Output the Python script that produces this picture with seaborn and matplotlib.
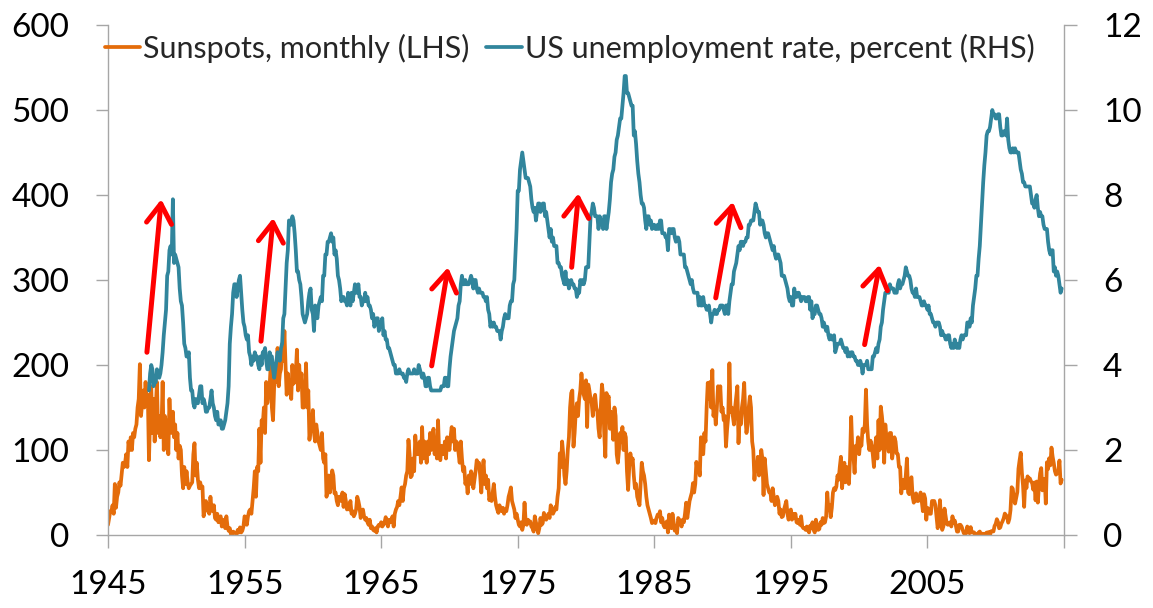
import numpy as np
import pandas as pd
import matplotlib
matplotlib.use("Agg")
import matplotlib.pyplot as plt
import seaborn as sns

# ---------------- data ----------------
# Monthly sunspot number (LHS), Jan 1945 - Nov 2014
sun_1940s = [
    12, 20, 28, 28, 35, 25, 60, 32, 45, 50, 62, 58,
    72, 85, 80, 85, 95, 80, 110, 100, 115, 100, 120, 115,
    125, 130, 150, 160, 201, 140, 155, 170, 150, 180, 155, 165,
    88, 140, 175, 120, 160, 110, 150, 180, 120, 140, 115, 125,
    180, 100, 140, 130, 120, 95, 160, 125, 120, 145, 115, 130,
]
sun_1950s = [
    100, 120, 90, 105, 100, 70, 55, 80, 60, 75, 62, 55,
    58, 60, 62, 95, 108, 70, 85, 65, 55, 62, 55, 57,
    22, 30, 40, 35, 28, 25, 45, 30, 28, 35, 20, 18,
    25, 15, 20, 22, 10, 18, 12, 8, 22, 10, 5, 8,
    1, 0, 4, 3, 2, 1, 6, 3, 9, 3, 5, 10,
    22, 20, 12, 22, 28, 30, 25, 40, 55, 75, 45, 80,
    75, 125, 85, 135, 130, 150, 120, 180, 155, 165, 175, 200,
    150, 135, 175, 185, 180, 220, 175, 190, 195, 225, 205, 240,
    200, 165, 190, 170, 175, 160, 200, 178, 180, 190, 218, 170,
    200, 175, 190, 150, 150, 160, 202, 150, 170, 112, 125, 130,
]
sun_1960s = [
    147, 120, 110, 130, 120, 110, 105, 100, 120, 90, 85, 95,
    45, 55, 70, 50, 60, 76, 70, 49, 50, 40, 35, 45,
    45, 40, 50, 33, 48, 40, 30, 35, 30, 40, 25, 28,
    22, 25, 30, 45, 40, 33, 20, 25, 30, 22, 18, 20,
    15, 12, 18, 8, 10, 6, 5, 8, 3, 10, 12, 11,
    15, 10, 12, 15, 21, 15, 10, 18, 15, 18, 22, 10,
    25, 30, 33, 40, 35, 45, 56, 40, 55, 60, 70, 75,
    112, 95, 68, 70, 90, 75, 117, 100, 95, 105, 110, 85,
    127, 90, 110, 100, 85, 110, 95, 120, 100, 115, 125, 95,
    110, 90, 135, 95, 88, 105, 100, 95, 110, 90, 115, 110,
]
sun_1970s = [
    100, 115, 127, 110, 125, 100, 110, 108, 96, 85, 110, 90,
    75, 80, 60, 65, 49, 70, 60, 75, 70, 55, 65, 75,
    88, 80, 85, 70, 50, 75, 88, 60, 70, 55, 65, 41,
    45, 40, 50, 60, 45, 35, 30, 26, 35, 30, 28, 32,
    25, 30, 28, 35, 45, 50, 56, 40, 35, 30, 20, 25,
    18, 12, 10, 15, 6, 12, 38, 15, 12, 18, 14, 16,
    10, 8, 4, 22, 15, 10, 2, 8, 20, 12, 14, 26,
    20, 18, 22, 25, 20, 35, 30, 25, 28, 33, 30, 45,
    55, 96, 80, 110, 95, 70, 60, 75, 100, 115, 150, 167,
    170, 104, 120, 145, 155, 140, 160, 170, 190, 175, 165, 160,
]
sun_1980s = [
    182, 127, 177, 170, 160, 155, 140, 160, 165, 150, 145, 125,
    115, 150, 177, 165, 120, 92, 167, 160, 163, 125, 145, 130,
    112, 150, 140, 95, 85, 100, 120, 110, 127, 100, 120, 115,
    75, 53, 80, 96, 85, 90, 70, 55, 60, 45, 40, 35,
    60, 85, 75, 70, 60, 45, 35, 30, 25, 20, 14, 15,
    17, 14, 20, 24, 22, 28, 15, 20, 12, 9, 12, 16,
    3, 24, 15, 8, 25, 15, 5, 10, 2, 20, 18, 15,
    10, 18, 15, 25, 38, 20, 30, 40, 45, 50, 61, 50,
    60, 86, 75, 80, 70, 115, 100, 95, 120, 110, 150, 179,
    160, 180, 150, 194, 140, 150, 130, 150, 175, 160, 175, 145,
]
sun_1990s = [
    150, 135, 140, 104, 125, 140, 202, 145, 150, 140, 130, 150,
    163, 175, 108, 140, 130, 150, 160, 179, 140, 120, 130, 150,
    163, 150, 110, 100, 65, 85, 75, 92, 70, 80, 100, 90,
    47, 90, 75, 60, 55, 50, 50, 40, 55, 45, 35, 40,
    45, 40, 25, 30, 21, 22, 30, 35, 40, 25, 18, 25,
    30, 18, 25, 20, 25, 15, 14, 18, 12, 22, 10, 8,
    8, 6, 10, 6, 3, 11, 8, 15, 6, 3, 18, 7,
    6, 7, 15, 12, 20, 14, 15, 22, 50, 30, 35, 21,
    32, 50, 55, 53, 57, 70, 65, 80, 92, 55, 72, 85,
    62, 80, 70, 60, 90, 139, 100, 93, 73, 105, 100, 115,
]
sun_2000s = [
    95, 110, 105, 125, 121, 130, 171, 130, 110, 100, 111, 104,
    95, 80, 105, 115, 90, 135, 100, 151, 140, 125, 85, 130,
    115, 107, 98, 120, 120, 90, 100, 115, 110, 96, 95, 80,
    80, 49, 60, 65, 55, 70, 90, 50, 48, 65, 68, 45,
    38, 45, 49, 40, 40, 44, 50, 40, 28, 48, 43, 18,
    32, 30, 25, 25, 40, 40, 40, 35, 22, 8, 18, 41,
    16, 6, 10, 31, 22, 13, 12, 14, 15, 10, 22, 14,
    17, 11, 4, 4, 12, 12, 10, 6, 2, 1, 2, 10,
    3.4, 2.1, 9.3, 2.9, 2.9, 3.1, 0.5, 0.0, 1.1, 2.9, 4.1, 0.8,
    1.5, 1.4, 0.7, 1.2, 2.9, 2.6, 3.5, 0.0, 4.4, 4.6, 4.2, 10.6,
]
sun_2010s = [
    13.1, 18.6, 15.4, 7.9, 8.8, 13.5, 16.1, 19.6, 25.2, 23.5, 21.6, 14.5,
    19.0, 29.4, 56.2, 54.4, 41.6, 37.0, 43.8, 50.6, 78.0, 88.0, 96.7, 73.0,
    58.3, 33.1, 64.2, 55.2, 69.0, 64.5, 66.5, 63.0, 61.4, 53.3, 61.8, 40.8,
    62.9, 38.1, 57.9, 72.4, 78.7, 52.5, 57.0, 66.0, 37.0, 85.6, 77.6, 90.3,
    82.0, 102.8, 92.2, 84.7, 75.2, 71.0, 72.4, 74.6, 87.6, 60.6, 65.0,
]

# US unemployment rate, percent (RHS), Jan 1948 - Nov 2014
unemp_1940s = [
    3.4, 3.8, 4.0, 3.9, 3.5, 3.6, 3.6, 3.9, 3.8, 3.7, 3.8, 4.0,
    4.3, 4.7, 5.0, 5.3, 6.1, 6.2, 6.7, 6.8, 6.6, 7.9, 6.4, 6.6,
]
unemp_1950s = [
    6.5, 6.4, 6.3, 5.8, 5.5, 5.4, 5.0, 4.5, 4.4, 4.2, 4.2, 4.3,
    3.7, 3.4, 3.4, 3.1, 3.0, 3.2, 3.1, 3.1, 3.3, 3.5, 3.5, 3.1,
    3.2, 3.1, 2.9, 2.9, 3.0, 3.0, 3.2, 3.4, 3.1, 3.0, 2.8, 2.7,
    2.9, 2.6, 2.6, 2.7, 2.5, 2.5, 2.6, 2.7, 2.9, 3.1, 3.5, 4.5,
    4.9, 5.2, 5.7, 5.9, 5.9, 5.6, 5.8, 6.0, 6.1, 5.7, 5.3, 5.0,
    4.9, 4.7, 4.6, 4.7, 4.3, 4.2, 4.0, 4.2, 4.1, 4.3, 4.2, 4.2,
    4.0, 3.9, 4.2, 4.0, 4.3, 4.3, 4.4, 4.1, 3.9, 3.9, 4.3, 4.2,
    4.2, 3.9, 3.7, 3.9, 4.1, 4.3, 4.2, 4.1, 4.4, 4.5, 5.1, 5.2,
    5.8, 6.4, 6.7, 7.4, 7.4, 7.3, 7.5, 7.4, 7.1, 6.7, 6.2, 6.2,
    6.0, 5.9, 5.6, 5.2, 5.1, 5.0, 5.1, 5.2, 5.5, 5.7, 5.8, 5.3,
]
unemp_1960s = [
    5.2, 4.8, 5.4, 5.2, 5.1, 5.4, 5.5, 5.6, 5.5, 6.1, 6.1, 6.6,
    6.6, 6.9, 6.9, 7.0, 7.1, 6.9, 7.0, 6.6, 6.7, 6.5, 6.1, 6.0,
    5.8, 5.5, 5.6, 5.6, 5.5, 5.5, 5.4, 5.7, 5.6, 5.4, 5.7, 5.5,
    5.7, 5.9, 5.7, 5.7, 5.9, 5.6, 5.6, 5.4, 5.5, 5.5, 5.7, 5.5,
    5.6, 5.4, 5.4, 5.3, 5.1, 5.2, 4.9, 5.0, 5.1, 5.1, 4.8, 5.0,
    4.9, 5.1, 4.7, 4.8, 4.6, 4.6, 4.4, 4.4, 4.3, 4.2, 4.1, 4.0,
    4.0, 3.8, 3.8, 3.8, 3.9, 3.8, 3.8, 3.8, 3.7, 3.7, 3.6, 3.8,
    3.9, 3.8, 3.8, 3.8, 3.8, 3.9, 3.8, 3.8, 3.8, 4.0, 3.9, 3.8,
    3.7, 3.8, 3.7, 3.5, 3.5, 3.7, 3.7, 3.5, 3.4, 3.4, 3.4, 3.4,
    3.4, 3.4, 3.4, 3.4, 3.4, 3.5, 3.5, 3.5, 3.7, 3.7, 3.5, 3.5,
]
unemp_1970s = [
    3.9, 4.2, 4.4, 4.6, 4.8, 4.9, 5.0, 5.1, 5.4, 5.5, 5.9, 6.1,
    5.9, 5.9, 6.0, 5.9, 5.9, 5.9, 6.0, 6.1, 6.0, 5.8, 6.0, 6.0,
    5.8, 5.7, 5.8, 5.7, 5.7, 5.7, 5.6, 5.6, 5.5, 5.6, 5.3, 5.2,
    4.9, 5.0, 4.9, 5.0, 4.9, 4.9, 4.8, 4.8, 4.8, 4.6, 4.8, 4.9,
    5.1, 5.2, 5.1, 5.1, 5.1, 5.4, 5.5, 5.5, 5.9, 6.0, 6.6, 7.2,
    8.1, 8.1, 8.6, 8.8, 9.0, 8.8, 8.6, 8.4, 8.4, 8.4, 8.3, 8.2,
    7.9, 7.7, 7.6, 7.7, 7.4, 7.6, 7.8, 7.8, 7.6, 7.7, 7.8, 7.8,
    7.5, 7.6, 7.4, 7.2, 7.0, 7.2, 6.9, 7.0, 6.8, 6.8, 6.8, 6.4,
    6.4, 6.3, 6.3, 6.1, 6.0, 5.9, 6.2, 5.9, 6.0, 5.8, 5.9, 6.0,
    5.9, 5.9, 5.8, 5.8, 5.6, 5.7, 5.7, 6.0, 5.9, 6.0, 5.9, 6.0,
]
unemp_1980s = [
    6.3, 6.3, 6.3, 6.9, 7.5, 7.6, 7.8, 7.7, 7.5, 7.5, 7.5, 7.2,
    7.5, 7.4, 7.4, 7.2, 7.5, 7.5, 7.2, 7.4, 7.6, 7.9, 8.3, 8.5,
    8.6, 8.9, 9.0, 9.3, 9.4, 9.6, 9.8, 9.8, 10.1, 10.4, 10.8, 10.8,
    10.4, 10.4, 10.3, 10.2, 10.1, 10.1, 9.4, 9.5, 9.2, 8.8, 8.5, 8.3,
    8.0, 7.8, 7.8, 7.7, 7.4, 7.2, 7.5, 7.5, 7.3, 7.4, 7.2, 7.3,
    7.3, 7.2, 7.2, 7.3, 7.2, 7.4, 7.4, 7.1, 7.1, 7.1, 7.0, 7.0,
    6.7, 7.2, 7.2, 7.1, 7.2, 7.2, 7.0, 6.9, 7.0, 7.0, 6.9, 6.6,
    6.6, 6.6, 6.6, 6.3, 6.3, 6.2, 6.1, 6.0, 5.9, 6.0, 5.8, 5.7,
    5.7, 5.7, 5.7, 5.4, 5.6, 5.4, 5.4, 5.6, 5.4, 5.4, 5.3, 5.3,
    5.4, 5.2, 5.0, 5.2, 5.2, 5.3, 5.2, 5.2, 5.3, 5.3, 5.4, 5.4,
]
unemp_1990s = [
    5.4, 5.3, 5.2, 5.4, 5.4, 5.2, 5.5, 5.7, 5.9, 5.9, 6.2, 6.3,
    6.4, 6.6, 6.8, 6.7, 6.9, 6.9, 6.8, 6.9, 6.9, 7.0, 7.0, 7.3,
    7.3, 7.4, 7.4, 7.4, 7.6, 7.8, 7.7, 7.6, 7.6, 7.3, 7.4, 7.4,
    7.3, 7.1, 7.0, 7.1, 7.1, 7.0, 6.9, 6.8, 6.7, 6.8, 6.6, 6.5,
    6.6, 6.6, 6.5, 6.4, 6.1, 6.1, 6.1, 6.0, 5.9, 5.8, 5.6, 5.5,
    5.6, 5.4, 5.4, 5.8, 5.6, 5.6, 5.7, 5.7, 5.6, 5.5, 5.6, 5.6,
    5.6, 5.5, 5.5, 5.6, 5.6, 5.3, 5.5, 5.1, 5.2, 5.2, 5.4, 5.4,
    5.3, 5.2, 5.2, 5.1, 4.9, 5.0, 4.9, 4.8, 4.9, 4.7, 4.6, 4.7,
    4.6, 4.6, 4.7, 4.3, 4.4, 4.5, 4.5, 4.5, 4.6, 4.5, 4.4, 4.4,
    4.3, 4.4, 4.2, 4.3, 4.2, 4.3, 4.3, 4.2, 4.2, 4.1, 4.1, 4.0,
]
unemp_2000s = [
    4.0, 4.1, 4.0, 3.8, 4.0, 4.0, 4.0, 4.1, 3.9, 3.9, 3.9, 3.9,
    4.2, 4.2, 4.3, 4.4, 4.3, 4.5, 4.6, 4.9, 5.0, 5.3, 5.5, 5.7,
    5.7, 5.7, 5.7, 5.9, 5.8, 5.8, 5.8, 5.7, 5.7, 5.7, 5.9, 6.0,
    5.8, 5.9, 5.9, 6.0, 6.1, 6.3, 6.2, 6.1, 6.1, 6.0, 5.8, 5.7,
    5.7, 5.6, 5.8, 5.6, 5.6, 5.6, 5.5, 5.4, 5.4, 5.5, 5.4, 5.4,
    5.3, 5.4, 5.2, 5.2, 5.1, 5.0, 5.0, 4.9, 5.0, 5.0, 5.0, 4.9,
    4.7, 4.8, 4.7, 4.7, 4.6, 4.6, 4.7, 4.7, 4.5, 4.4, 4.5, 4.4,
    4.6, 4.5, 4.4, 4.5, 4.4, 4.6, 4.7, 4.6, 4.7, 4.7, 4.7, 5.0,
    5.0, 4.9, 5.1, 5.0, 5.4, 5.6, 5.8, 6.1, 6.1, 6.5, 6.8, 7.3,
    7.8, 8.3, 8.7, 9.0, 9.4, 9.5, 9.5, 9.6, 9.8, 10.0, 9.9, 9.9,
]
unemp_2010s = [
    9.8, 9.8, 9.9, 9.9, 9.6, 9.4, 9.4, 9.5, 9.5, 9.4, 9.8, 9.3,
    9.1, 9.0, 9.0, 9.1, 9.0, 9.1, 9.0, 9.0, 9.0, 8.8, 8.6, 8.5,
    8.3, 8.3, 8.2, 8.2, 8.2, 8.2, 8.2, 8.0, 7.8, 7.8, 7.7, 7.9,
    8.0, 7.7, 7.5, 7.6, 7.5, 7.5, 7.3, 7.2, 7.2, 7.2, 6.9, 6.7,
    6.6, 6.7, 6.7, 6.2, 6.3, 6.1, 6.2, 6.1, 5.9, 5.7, 5.8,
]

sun_start_year = 1945
unemp_start_year = 1948

# Red arrows (in sunspot / LHS units): start -> end
arrow_x0 = [1947.85, 1956.2, 1968.7, 1978.95, 1989.5, 2000.4]
arrow_y0 = [215, 228, 199, 315, 279, 224]
arrow_x1 = [1948.9, 1957.1, 1969.9, 1979.45, 1990.75, 2001.5]
arrow_y1 = [395, 373, 315, 402, 392, 318]

x_ticks = [1945, 1955, 1965, 1975, 1985, 1995, 2005, 2015]
x_tick_labels = ["1945", "1955", "1965", "1975", "1985", "1995", "2005", ""]

label_sun = "Sunspots, monthly (LHS)"
label_unemp = "US unemployment rate, percent (RHS)"

# ---------------- build frames ----------------
sunspots = sun_1940s + sun_1950s + sun_1960s + sun_1970s + sun_1980s + sun_1990s + sun_2000s + sun_2010s
unemp = unemp_1940s + unemp_1950s + unemp_1960s + unemp_1970s + unemp_1980s + unemp_1990s + unemp_2000s + unemp_2010s

df_sun = pd.DataFrame({"t": sun_start_year + np.arange(len(sunspots)) / 12.0, "v": sunspots})
df_un = pd.DataFrame({"t": unemp_start_year + np.arange(len(unemp)) / 12.0, "v": unemp})

# ---------------- style ----------------
ORANGE = "#E46C0A"
TEAL = "#31859C"
GRID = "#A6A6A6"
FS_TICK = 24
FS_LEG = 22
LW = 2.7

sns.set_theme(style="white")
plt.rcParams["font.family"] = ["Lato", "DejaVu Sans"]
plt.rcParams.update({
    "xtick.major.size": 9, "ytick.major.size": 9,
    "xtick.major.width": 1.0, "ytick.major.width": 1.0,
    "xtick.major.pad": 16, "ytick.major.pad": 19,
    "xtick.color": GRID, "ytick.color": GRID,
    "xtick.labelcolor": "black", "ytick.labelcolor": "black",
    "xtick.labelsize": FS_TICK, "ytick.labelsize": FS_TICK,
    "xtick.direction": "out", "ytick.direction": "out",
    "xtick.bottom": True, "ytick.left": True,
})

fig = plt.figure(figsize=(11.53, 6.08), dpi=100)
ax = fig.add_axes([108 / 1153, 1 - 535 / 608, (1064 - 108) / 1153, (535 - 25) / 608])
ax2 = ax.twinx()

sns.lineplot(data=df_sun, x="t", y="v", ax=ax, color=ORANGE, linewidth=LW, label=label_sun)
sns.lineplot(data=df_un, x="t", y="v", ax=ax2, color=TEAL, linewidth=LW, label=label_unemp)

for x0, y0, x1, y1 in zip(arrow_x0, arrow_y0, arrow_x1, arrow_y1):
    ax2.annotate("", xy=(x1, y1 / 50.0), xytext=(x0, y0 / 50.0),
                 arrowprops=dict(arrowstyle="->,head_length=0.7,head_width=0.45",
                                 color="#FF0000", lw=3.6, shrinkA=0, shrinkB=0,
                                 mutation_scale=20),
                 zorder=5)

ax.set_xlim(1945, 2015)
ax.set_ylim(0, 600)
ax2.set_ylim(0, 12)
ax.set_yticks(range(0, 601, 100))
ax2.set_yticks(range(0, 13, 2))
ax.set_xticks(x_ticks)
ax.set_xticklabels(x_tick_labels)

for a in (ax, ax2):
    a.set_xlabel("")
    a.set_ylabel("")
    a.grid(False)
    a.spines["top"].set_visible(False)
    for s in ("left", "right", "bottom"):
        a.spines[s].set_color(GRID)
        a.spines[s].set_linewidth(1.0)
ax.spines["right"].set_visible(False)
ax2.spines["left"].set_visible(False)
ax2.spines["bottom"].set_visible(False)

ax2.tick_params(axis="y", right=True, left=False, labelright=True, labelleft=False, pad=19)

# legend
if ax.get_legend() is not None:
    ax.get_legend().remove()
if ax2.get_legend() is not None:
    ax2.get_legend().remove()
h1, l1 = ax.get_legend_handles_labels()
h2, l2 = ax2.get_legend_handles_labels()
leg = ax2.legend(h1 + h2, l1 + l2, loc="center left",
                 bbox_to_anchor=((105 - 108) / 956, (535 - 48) / 510),
                 ncol=2, frameon=False, fontsize=FS_LEG, borderpad=0, borderaxespad=0,
                 handlelength=1.15, handletextpad=0.1, columnspacing=0.55)
for line in leg.get_lines():
    line.set_linewidth(LW)

fig.savefig("out.png", dpi=100)
